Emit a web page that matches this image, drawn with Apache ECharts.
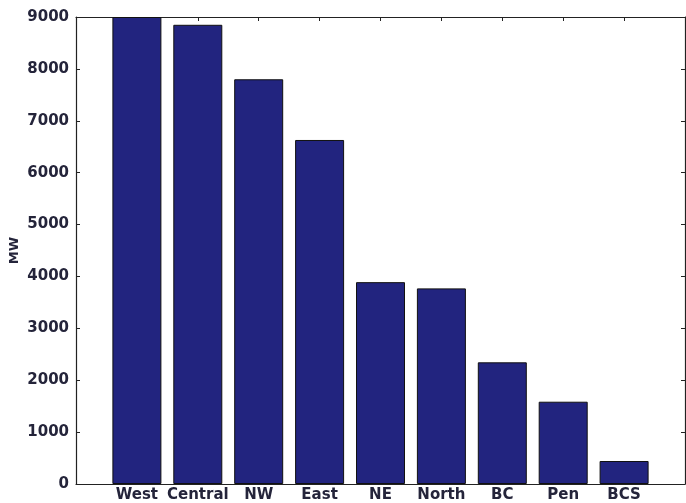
<!DOCTYPE html>
<html>
<head>
<meta charset="utf-8">
<script src="https://cdn.jsdelivr.net/npm/echarts@6/dist/echarts.min.js"></script>
<style>html,body{margin:0;padding:0;background:#fff;}#c{width:686px;height:503px;}</style>
</head>
<body>
<div id="c"></div>
<script>
const categories = ['West', 'Central', 'NW', 'East', 'NE', 'North', 'BC', 'Pen', 'BCS'];
const values = [9000, 8850, 7800, 6630, 3890, 3770, 2345, 1586, 443];
const yTicks = [0, 1000, 2000, 3000, 4000, 5000, 6000, 7000, 8000, 9000];

const chart = echarts.init(document.getElementById('c'), null, {renderer: 'canvas'});
const txt = '#24243a';
const axisLine = {show: true, onZero: false, lineStyle: {color: '#222', width: 1.2}};
const tick = {show: true, inside: true, length: 4, lineStyle: {color: '#222'}};
chart.setOption({
  animation: false,
  grid: {left: 76, right: 1, top: 17, bottom: 19, containLabel: false, outerBoundsMode: 'none'},
  xAxis: [{
    type: 'value', min: -1, max: 9, interval: 1, position: 'bottom',
    axisLine: axisLine, axisTick: tick, splitLine: {show: false},
    axisLabel: {
      margin: 4, color: txt, fontFamily: 'DejaVu Sans', fontSize: 15, fontWeight: 'bold',
      formatter: v => (v >= 0 && v < categories.length) ? categories[v] : ''
    }
  }, {
    type: 'value', min: -1, max: 9, interval: 1, position: 'top',
    axisLine: axisLine, axisTick: tick, splitLine: {show: false}, axisLabel: {show: false}
  }],
  yAxis: [{
    type: 'value', min: yTicks[0], max: yTicks[yTicks.length - 1], interval: 1000, position: 'left',
    name: 'MW', nameLocation: 'middle', nameGap: 55, nameRotate: 90, nameMoveOverlap: false,
    nameTextStyle: {color: txt, fontFamily: 'DejaVu Sans', fontSize: 13, fontWeight: 'bold'},
    axisLine: axisLine, axisTick: tick, splitLine: {show: false},
    axisLabel: {margin: 7, color: txt, fontFamily: 'DejaVu Sans', fontSize: 15, fontWeight: 'bold',
      formatter: v => String(v)}
  }, {
    type: 'value', min: yTicks[0], max: yTicks[yTicks.length - 1], interval: 1000, position: 'right',
    axisLine: axisLine, axisTick: tick, splitLine: {show: false}, axisLabel: {show: false}
  }],
  series: [{
    type: 'bar',
    xAxisIndex: 0, yAxisIndex: 0,
    barWidth: 49,
    data: values.map((v, i) => [i, v]),
    itemStyle: {color: '#22247f', borderColor: '#111', borderWidth: 1}
  }]
});
</script>
</body>
</html>
